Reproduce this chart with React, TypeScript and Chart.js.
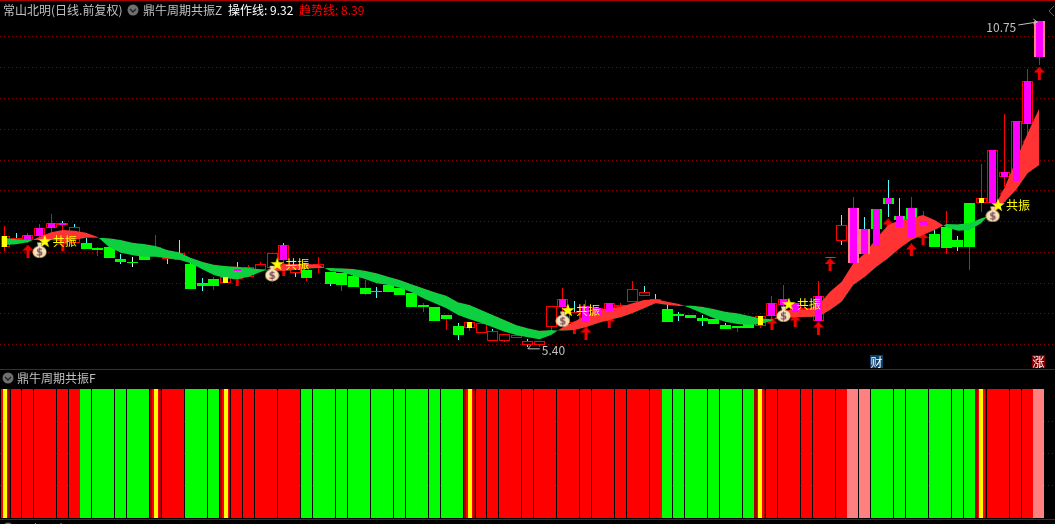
import React, { useEffect, useRef } from "react";
import { Chart, registerables } from "chart.js";

Chart.register(...registerables);

const WIDTH = 1055;
const HEIGHT = 524;

const candleKinds = ("y u m m m m u d d d d d d u u u d d d y m u u u m u d u d d " +
  "d d d d d d d d d d y u u u u u u u m u m m m u u u u d d d " +
  "d d d d d y m m m u m m u p p g g g g m d d d d y m m m m p").split(" ");
const upperWicks = ("r c r r r c c c r c c w c r r c c c r r c r r r c c r r c r " +
  "c r c c c c r c r c r r c r r c r r r c r r r r r c c c c c " +
  "c c c r c r r r r r r r c r c r c c r r c r c r r r r r r r").split(" ");
const lowerWicks = ("r r r r r r r c r c c w c r c c c c r r r r r r r c r r c r " +
  "c r c c c c r c r c r r c r r c r r r r r r r r r c c c c c " +
  "c c c r c r r r r r r r c r c r c c r r c r c r r r r r r r").split(" ");

const bodyTop = [
  7.225, 7.187, 7.236, 7.356, 7.433, 7.443, 7.367, 7.105, 7.023, 7.039, 6.843, 6.799, 6.94, 7.05, 6.886, 6.941, 6.766, 6.455, 6.515, 6.558, 6.684, 6.711, 6.766, 6.946, 7.072, 6.695, 6.668, 6.766, 6.635, 6.624,
  6.575, 6.368, 6.324, 6.422, 6.368, 6.286, 6.095, 6.062, 5.931, 5.75, 5.81, 5.794, 5.668, 5.614, 5.597, 5.499, 5.499, 6.078, 6.187, 5.985, 6.078, 6.051, 6.122, 6.089, 6.351, 6.308, 6.187, 6.029, 5.947, 5.931,
  5.875, 5.865, 5.766, 5.755, 5.783, 5.914, 6.121, 6.187, 6.121, 6.04, 6.242, 6.881, 7.405, 7.69, 7.34, 7.668, 7.848, 7.553, 7.684, 7.471, 7.258, 7.367, 7.16, 7.766, 7.843, 8.635, 8.274, 9.11, 9.766, 10.75,
];
const bodyBottom = [
  7.05, 7.16, 7.16, 7.23, 7.362, 7.41, 7.116, 7.017, 7.0, 6.87, 6.804, 6.788, 6.83, 6.914, 6.848, 6.837, 6.356, 6.405, 6.405, 6.455, 6.515, 6.547, 6.668, 6.695, 6.832, 6.613, 6.536, 6.695, 6.438, 6.422,
  6.39, 6.28, 6.302, 6.308, 6.258, 6.062, 6.062, 5.832, 5.865, 5.603, 5.723, 5.641, 5.51, 5.51, 5.559, 5.444, 5.444, 5.739, 6.056, 5.794, 5.821, 5.931, 5.996, 6.056, 6.149, 6.248, 6.166, 5.821, 5.914, 5.887,
  5.832, 5.788, 5.7, 5.723, 5.723, 5.755, 5.919, 6.094, 5.985, 5.903, 5.837, 6.87, 7.149, 6.788, 6.93, 7.34, 7.755, 7.487, 7.487, 7.405, 7.039, 7.034, 7.045, 7.045, 7.761, 7.766, 8.192, 8.127, 9.061, 10.16,
];
const highs = [
  7.39, 7.27, 7.28, 7.43, 7.586, 7.476, 7.42, 7.187, 7.05, 7.08, 6.924, 6.88, 6.94, 7.24, 6.886, 7.159, 6.804, 6.536, 6.55, 6.585, 6.799, 6.75, 6.804, 6.946, 7.105, 6.695, 6.668, 6.886, 6.635, 6.624,
  6.64, 6.504, 6.39, 6.422, 6.368, 6.286, 6.122, 6.062, 5.931, 5.794, 5.81, 5.794, 5.696, 5.614, 5.597, 5.543, 5.499, 6.078, 6.379, 6.16, 6.177, 6.051, 6.133, 6.133, 6.488, 6.406, 6.275, 6.149, 5.985, 5.931,
  5.93, 5.865, 5.794, 5.755, 5.848, 5.914, 6.242, 6.422, 6.121, 6.04, 6.482, 6.881, 7.57, 7.859, 7.542, 7.668, 8.143, 7.848, 7.859, 7.63, 7.334, 7.63, 7.231, 7.766, 8.41, 8.635, 9.225, 9.11, 9.963, 10.75,
];
const lows = [
  6.985, 7.16, 7.105, 7.16, 7.296, 6.979, 7.116, 7.017, 6.9, 6.87, 6.766, 6.72, 6.83, 6.914, 6.766, 6.837, 6.356, 6.323, 6.34, 6.455, 6.405, 6.547, 6.64, 6.668, 6.586, 6.547, 6.487, 6.624, 6.405, 6.323,
  6.39, 6.258, 6.215, 6.308, 6.258, 6.062, 5.98, 5.832, 5.685, 5.52, 5.668, 5.641, 5.51, 5.488, 5.559, 5.4, 5.41, 5.685, 5.985, 5.674, 5.728, 5.849, 5.739, 6.0, 6.149, 6.248, 6.166, 5.821, 5.832, 5.887,
  5.755, 5.788, 5.7, 5.657, 5.723, 5.723, 5.794, 6.0, 5.766, 5.903, 5.837, 6.87, 7.078, 6.788, 6.93, 7.34, 7.542, 7.487, 7.487, 7.405, 7.039, 6.93, 6.985, 6.673, 7.624, 7.766, 8.03, 8.127, 8.88, 10.03,
];
const innerBottomOverrides: Record<number, number> = { 20: 6.651, 65: 5.766, 75: 7.067, 77: 7.367, 78: 7.198 };

const operationLine = [
  7.077, 7.088, 7.121, 7.214, 7.285, 7.323, 7.312, 7.28, 7.209, 7.039, 6.952, 6.908, 6.886, 6.886, 6.859, 6.837, 6.777, 6.679, 6.586, 6.531, 6.515, 6.558, 6.635, 6.7, 6.766, 6.766, 6.766, 6.755, 6.651, 6.63,
  6.574, 6.52, 6.45, 6.422, 6.378, 6.302, 6.204, 6.122, 6.04, 5.93, 5.86, 5.799, 5.728, 5.656, 5.602, 5.565, 5.532, 5.603, 5.728, 5.821, 5.931, 6.013, 6.04, 6.067, 6.122, 6.176, 6.187, 6.149, 6.111, 6.04,
  5.958, 5.876, 5.82, 5.782, 5.766, 5.782, 5.837, 6.0, 6.023, 6.023, 6.094, 6.312, 6.476, 6.778, 6.942, 7.187, 7.406, 7.488, 7.515, 7.57, 7.488, 7.368, 7.312, 7.323, 7.433, 7.651, 8.012, 8.471, 8.909, 9.32,
];
const trendLine = [
  7.198, 7.17, 7.159, 7.159, 7.159, 7.132, 7.159, 7.198, 7.198, 7.187, 7.159, 7.116, 7.094, 7.061, 6.995, 6.957, 6.87, 6.804, 6.755, 6.733, 6.722, 6.706, 6.679, 6.657, 6.651, 6.668, 6.69, 6.7, 6.7, 6.696,
  6.684, 6.656, 6.614, 6.558, 6.504, 6.433, 6.368, 6.302, 6.246, 6.138, 6.094, 6.012, 5.93, 5.848, 5.766, 5.712, 5.673, 5.685, 5.674, 5.685, 5.728, 5.794, 5.849, 5.892, 5.958, 6.04, 6.122, 6.095, 6.078, 6.084,
  6.067, 6.028, 5.984, 5.958, 5.919, 5.876, 5.86, 5.876, 5.892, 5.902, 5.902, 6.012, 6.148, 6.422, 6.558, 6.722, 6.86, 7.024, 7.16, 7.242, 7.324, 7.422, 7.417, 7.433, 7.515, 7.569, 7.783, 7.979, 8.253, 8.39,
];

const arrowIndexes = [2, 5, 20, 24, 49, 50, 52, 66, 68, 70, 71, 76, 78, 79, 86, 88, 89];
const arrowPrices = [6.979, 7.078, 6.504, 6.684, 5.733, 5.635, 5.82, 5.783, 5.832, 5.717, 6.758, 7.406, 6.996, 7.184, 7.897, 8.75, 9.897];

const resonanceIndexes = [3, 23, 48, 67, 85];
const bagPrices = [6.996, 6.614, 5.865, 5.947, 7.586];
const starPrices = [7.143, 6.766, 6.012, 6.11, 7.733];
const resonanceLabel = "共振";

const gridLevels = [10.492, 9.986, 9.481, 8.974, 8.468, 7.963, 7.459, 6.955, 6.45, 5.955, 5.446];
const lowerGridLevels = [25, 50, 75];

const cellStates = (
  "S" + "RRRRRR" + "GGGGGG" + "S" + "RR" + "GGG" + "S" + "RRRRRR" + "GGGGGGGGGGGGGG" + "S" +
  "RRRRRRRRRRRRRRRR" + "GGGGGGGG" + "S" + "RRRRRRR" + "PP" + "GGGGGGGGG" + "S" + "RRRR" + "P"
).split("");
const cellsWithoutGap = [3, 6, 8, 11, 14, 16, 22, 24, 27, 30, 32, 35, 38, 43, 46, 48, 51, 54, 56, 59, 62, 64, 67, 70, 72, 75, 78, 80, 83, 85, 88];

const extremes = [
  { index: 89, price: 10.75, label: "10.75" },
  { index: 45, price: 5.4, label: "5.40" },
];

const titleMain = "常山北明(日线.前复权)";
const titleIndicator = "鼎牛周期共振Z";
const operationLabel = "操作线:";
const operationValue = "9.32";
const trendLabel = "趋势线:";
const trendValue = "8.39";
const lowerTitle = "鼎牛周期共振F";
const bottomParts = ["VR(26.0):", "333.87", "MAVR: 361.12"];

const FONT = '12px "Noto Sans CJK SC", "Noto Sans", sans-serif';

function sprite(w: number, h: number, paint: (c: CanvasRenderingContext2D) => void) {
  const cv = document.createElement("canvas");
  cv.width = w;
  cv.height = h;
  paint(cv.getContext("2d") as CanvasRenderingContext2D);
  return cv;
}

function arrowSprite() {
  return sprite(11, 13, (c) => {
    c.fillStyle = "#f00000";
    c.beginPath();
    c.moveTo(5.5, 0);
    c.lineTo(11, 6);
    c.lineTo(7, 6);
    c.lineTo(7, 13);
    c.lineTo(4, 13);
    c.lineTo(4, 6);
    c.lineTo(0, 6);
    c.closePath();
    c.fill();
  });
}

function starSprite() {
  return sprite(14, 14, (c) => {
    c.fillStyle = "#ffff00";
    c.beginPath();
    for (let k = 0; k < 10; k++) {
      const r = k % 2 === 0 ? 7 : 2.8;
      const a = -Math.PI / 2 + (k * Math.PI) / 5;
      const px = 7 + r * Math.cos(a);
      const py = 7.5 + r * Math.sin(a);
      if (k === 0) c.moveTo(px, py);
      else c.lineTo(px, py);
    }
    c.closePath();
    c.fill();
  });
}

function bagSprite() {
  return sprite(15, 17, (c) => {
    c.fillStyle = "#f0d9a0";
    c.beginPath();
    c.moveTo(5, 1);
    c.lineTo(10, 1);
    c.lineTo(9, 5);
    c.lineTo(6, 5);
    c.closePath();
    c.fill();
    const g = c.createRadialGradient(7, 9, 1, 7.5, 10, 8);
    g.addColorStop(0, "#fff4d8");
    g.addColorStop(0.75, "#f5dca8");
    g.addColorStop(1, "#d98a30");
    c.fillStyle = g;
    c.beginPath();
    c.ellipse(7.5, 10.5, 7, 6, 0, 0, Math.PI * 2);
    c.fill();
    c.fillStyle = "#7a4a5a";
    c.font = "bold 10px 'DejaVu Sans', sans-serif";
    c.textAlign = "center";
    c.textBaseline = "middle";
    c.fillText("$", 7.5, 11);
  });
}

const snapBars = {
  id: "snapBars",
  afterDatasetsUpdate(chart: any) {
    chart.getSortedVisibleDatasetMetas().forEach((meta: any) => {
      if (meta.type !== "bar") return;
      meta.data.forEach((el: any) => {
        let left = Math.round(el.x - el.width / 2);
        const right = Math.round(el.x + el.width / 2);
        if (left < 1) left = 1;
        el.width = right - left;
        el.x = (left + right) / 2;
        let top = Math.round(Math.min(el.y, el.base));
        let bottom = Math.round(Math.max(el.y, el.base));
        if (bottom - top < 1) bottom = top + 1;
        el.y = top;
        el.base = bottom;
      });
    });
  },
};

function roundIcon(c: CanvasRenderingContext2D, x: number, y: number) {
  c.fillStyle = "#707070";
  c.beginPath();
  c.arc(x, y, 5.5, 0, Math.PI * 2);
  c.fill();
  c.strokeStyle = "#202020";
  c.lineWidth = 1.4;
  c.beginPath();
  c.moveTo(x - 3, y - 1);
  c.lineTo(x, y + 2);
  c.lineTo(x + 3, y - 1);
  c.stroke();
}

const overlay = {
  id: "overlay",
  afterDraw(chart: any) {
    const c: CanvasRenderingContext2D = chart.ctx;
    const xs = chart.scales.x;
    const ys = chart.scales.y;
    c.save();
    c.fillStyle = "#a80000";
    c.fillRect(0, 0, WIDTH, 1);
    c.fillRect(0, 369, WIDTH, 1);
    c.fillRect(0, 519, WIDTH, 1);

    c.font = FONT;
    c.textBaseline = "middle";
    c.textAlign = "left";
    const text = (s: string, x: number, y: number, col: string) => {
      c.fillStyle = col;
      c.fillText(s, x, y);
    };
    text(titleMain, 3, 10, "#c0c0c0");
    roundIcon(c, 133, 10);
    text(titleIndicator, 143, 10, "#c0c0c0");
    text(operationLabel, 228, 10, "#ffffff");
    text(operationValue, 270, 10, "#ffffff");
    text(trendLabel, 299, 10, "#ff0000");
    text(trendValue, 341, 10, "#ff0000");

    roundIcon(c, 8, 378);
    text(lowerTitle, 17, 378, "#c0c0c0");

    roundIcon(c, 8, 528);
    text(bottomParts[0], 18, 528, "#c0c0c0");
    text(bottomParts[1], 95, 528, "#ffffff");
    text(bottomParts[2], 137, 528, "#ffff00");

    // resonance captions next to each star
    resonanceIndexes.forEach((idx, k) => {
      text(resonanceLabel, xs.getPixelForValue(idx + 0.45) + 8, ys.getPixelForValue(starPrices[k]) + 0.5, "#ffff00");
    });

    // high / low callouts
    c.strokeStyle = "#c0c0c0";
    c.lineWidth = 1;
    const hi = extremes[0];
    const hx = xs.getPixelForValue(hi.index);
    const hy = ys.getPixelForValue(hi.price);
    text(hi.label, hx - 53, hy + 6, "#c0c0c0");
    c.beginPath();
    c.moveTo(hx - 21, hy + 4);
    c.lineTo(hx - 2, hy + 1);
    c.moveTo(hx - 6, hy - 2);
    c.lineTo(hx - 2, hy + 1);
    c.lineTo(hx - 6, hy + 3);
    c.stroke();
    const lo = extremes[1];
    const lx = xs.getPixelForValue(lo.index);
    const ly = ys.getPixelForValue(lo.price);
    text(lo.label, lx + 14, ly + 3, "#c0c0c0");
    c.beginPath();
    c.moveTo(lx + 12, ly + 1.5);
    c.lineTo(lx, ly + 1.5);
    c.lineTo(lx + 3, ly - 2);
    c.stroke();

    // badges
    c.fillStyle = "#0b3f6e";
    c.fillRect(870, 355, 13, 13);
    c.fillStyle = "#800000";
    c.fillRect(1032, 355, 13, 13);
    text("财", 870.5, 362, "#ffffff");
    text("涨", 1032.5, 362, "#ffffff");

    // collapse glyph at the top-right corner
    c.strokeStyle = "#606060";
    c.beginPath();
    c.moveTo(1054, 6);
    c.lineTo(1049, 11);
    c.lineTo(1054, 16);
    c.stroke();
    c.restore();
  },
};

export default function App() {
  const ref = useRef<HTMLCanvasElement>(null);

  useEffect(() => {
    document.body.style.margin = "0";
    document.body.style.background = "#000";
    const canvas = ref.current as HTMLCanvasElement;

    const idx = candleKinds.map((_, i) => i);
    const base = {
      type: "bar" as const,
      grouped: false,
      inflateAmount: 0,
      borderSkipped: false,
      yAxisID: "y",
    };
    const wickSet = (code: string, color: string) => ({
      ...base,
      barThickness: 1,
      backgroundColor: color,
      borderWidth: 0,
      order: 8,
      data: [
        ...idx.filter((i) => upperWicks[i] === code && highs[i] > bodyTop[i]).map((i) => ({ x: i, y: [bodyTop[i], highs[i]] })),
        ...idx.filter((i) => lowerWicks[i] === code && lows[i] < bodyBottom[i]).map((i) => ({ x: i, y: [lows[i], bodyBottom[i]] })),
      ],
    });
    const bodySet = (kinds: string[], fill: string, stroke: string, order: number) => ({
      ...base,
      barThickness: 11,
      backgroundColor: fill,
      borderColor: stroke,
      borderWidth: 1,
      order,
      data: idx.filter((i) => kinds.includes(candleKinds[i])).map((i) => ({ x: i, y: [bodyBottom[i], bodyTop[i]] })),
    });
    const innerSet = (kinds: string[], fill: string, thick: number) => ({
      ...base,
      barThickness: thick,
      backgroundColor: fill,
      borderWidth: 0,
      order: 2,
      data: idx
        .filter((i) => kinds.includes(candleKinds[i]))
        .map((i) => ({ x: i, y: [innerBottomOverrides[i] ?? bodyBottom[i], bodyTop[i]] })),
    });
    const cellSet = (state: string, fill: string) => ({
      ...base,
      yAxisID: "y2",
      barThickness: 11.625,
      backgroundColor: fill,
      borderColor: "rgba(0,0,0,0)",
      borderWidth: (ctx: any) => ({
        top: 0,
        left: 0,
        bottom: 0,
        right: ctx.raw && cellsWithoutGap.includes(ctx.raw.x) ? 0 : 1,
      }),
      order: 12,
      data: idx.filter((i) => cellStates[i] === state).map((i) => ({ x: i, y: [0, 100] })),
    });
    const signalSet = (fill: string, thick: number, order: number) => ({
      ...base,
      yAxisID: "y2",
      barThickness: thick,
      backgroundColor: fill,
      borderWidth: 0,
      order,
      data: idx.filter((i) => cellStates[i] === "S").map((i) => ({ x: i, y: [0, 100] })),
    });
    const pointSet = (xs: number[], prices: number[], image: HTMLCanvasElement, order: number) => ({
      type: "scatter" as const,
      yAxisID: "y",
      pointStyle: image,
      pointRadius: 7,
      showLine: false,
      order,
      data: xs.map((x, k) => ({ x, y: prices[k] })),
    });

    const chart = new Chart(canvas, {
      type: "bar",
      plugins: [snapBars, overlay],
      data: {
        datasets: [
          cellSet("R", "#ff0000"),
          cellSet("G", "#00ff00"),
          cellSet("P", "#ff8080"),
          cellSet("S", "#a80000"),
          signalSet("#ff0000", 7, 11),
          signalSet("#ffff00", 4, 10),
          wickSet("r", "#ff0000"),
          wickSet("c", "#54ffff"),
          wickSet("w", "#ffffff"),
          bodySet(["u", "m", "y"], "#000000", "#ff0000", 7),
          bodySet(["d", "g"], "#00ff00", "#00ff00", 7),
          pointSet(arrowIndexes, arrowPrices, arrowSprite(), 6),
          {
            type: "line",
            yAxisID: "y",
            order: 5,
            borderWidth: 0,
            pointRadius: 0,
            tension: 0,
            fill: { target: "+1", above: "#ff3333", below: "#0cd040" },
            data: idx.map((i) => ({ x: i, y: operationLine[i] })),
          },
          {
            type: "line",
            yAxisID: "y",
            order: 5,
            borderWidth: 0,
            pointRadius: 0,
            tension: 0,
            fill: false,
            data: idx.map((i) => ({ x: i, y: trendLine[i] })),
          },
          bodySet(["p"], "#ff8080", "#ff8080", 3),
          innerSet(["m", "p", "g"], "#ff00ff", 7),
          innerSet(["y"], "#ffff00", 5),
          pointSet(resonanceIndexes.map((i) => i + 0.45), starPrices, starSprite(), 1),
          pointSet(resonanceIndexes, bagPrices, bagSprite(), 0),
        ] as any,
      },
      options: {
        animation: false,
        responsive: false,
        devicePixelRatio: 1,
        layout: { padding: 0, autoPadding: false },
        plugins: { legend: { display: false }, tooltip: { enabled: false } },
        events: [],
        scales: {
          x: {
            type: "linear",
            display: false,
            offset: false,
            min: -0.4043,
            max: 90.35,
          },
          y: {
            type: "linear",
            position: "left",
            min: 2.504,
            max: 11.094,
            afterFit: (s: any) => { s.width = 0; },
            afterBuildTicks: (s: any) => { s.ticks = gridLevels.map((value) => ({ value })); },
            ticks: { display: false },
            border: { display: false, dash: [1, 3] },
            grid: { color: "#900000", lineWidth: 1, drawTicks: false },
          },
          y2: {
            type: "linear",
            position: "right",
            min: -4.65,
            max: 401.55,
            afterFit: (s: any) => { s.width = 0; },
            afterBuildTicks: (s: any) => { s.ticks = lowerGridLevels.map((value) => ({ value })); },
            ticks: { display: false },
            border: { display: false, dash: [1, 3] },
            grid: { color: "#900000", lineWidth: 1, drawTicks: false },
          },
        },
      } as any,
    });
    return () => chart.destroy();
  }, []);

  return (
    <div style={{ width: WIDTH, height: HEIGHT, background: "#000", overflow: "hidden" }}>
      <canvas ref={ref} width={WIDTH} height={HEIGHT} style={{ display: "block" }} />
    </div>
  );
}
